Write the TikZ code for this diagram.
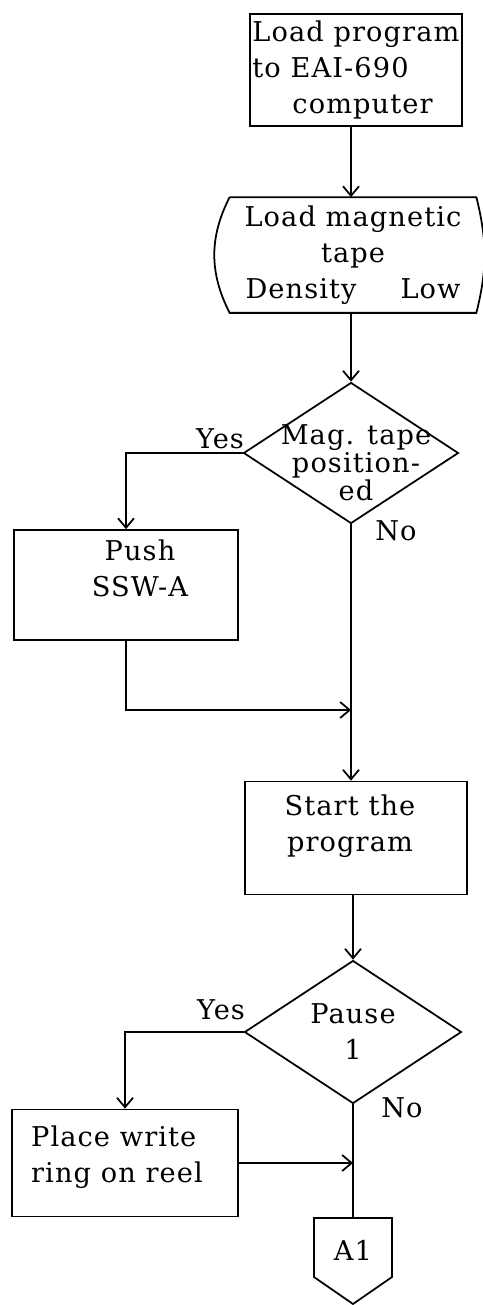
\documentclass[tikz,border=0pt]{standalone}
\usepackage{fontspec}
\setmainfont{DejaVu Serif}[LetterSpace=4]
\usetikzlibrary{arrows.meta,shapes.geometric}

\begin{document}
\begin{tikzpicture}[x=0.02cm,y=-0.02cm,>={Straight Barb[length=1.9mm,width=3.2mm]},line width=1pt,font=\fontsize{15.5}{20.5}\selectfont]
\tikzset{
  procbox/.style={draw,inner sep=0pt},
  decision/.style={draw,diamond,inner sep=0pt},
  answer/.style={inner sep=1pt}
}
\useasboundingbox (0,0) rectangle (483,1305);
% boxes and shapes
\node[procbox,minimum width=4.24cm,minimum height=2.24cm,align=left] (load) at (356,70) {Load program\\to EAI-690\\\hspace*{0.8cm}computer};
\node[minimum width=4.9cm,minimum height=2.28cm,align=center] (tape) at (353,255) {Load magnetic\\tape\\\makebox[4.3cm]{Density\hfill Low}};
\draw (tape.north west) -- (tape.north east) to[bend left=14] (tape.south east) -- (tape.south west) to[bend left=27] (tape.north west);
\node[decision,minimum width=4.3cm,minimum height=2.82cm,
  label={[align=center,font=\fontsize{15.5}{12.5}\selectfont,xshift=0.1cm,yshift=-0.2cm]center:Mag. tape\\position-\\ed}] (mag) at (351,453) {};
\node[procbox,minimum width=4.48cm,minimum height=2.2cm,
  label={[align=center,xshift=0.28cm,yshift=0.34cm]center:Push\\SSW-A}] (push) at (126,585) {};
\node[procbox,minimum width=4.44cm,minimum height=2.26cm,
  label={[align=center,xshift=-0.12cm,yshift=0.24cm]center:Start the\\program}] (start) at (356,838) {};
\node[decision,minimum width=4.34cm,minimum height=2.86cm,align=center] (pause) at (353,1032) {Pause\\1};
\node[procbox,minimum width=4.52cm,minimum height=2.14cm,
  label={[align=left,xshift=-0.16cm,yshift=0.12cm]center:Place write\\ring on reel}] (place) at (125,1163) {};
\node (a1) at (353,1250) {A1};
\draw (a1) ++(-39,-32) -- ++(78,0) -- ++(0,59) -- ++(-39,27) -- ++(-39,-27) -- cycle;
\path (a1) ++(0,-32) coordinate (a1in);
% answers
\node[answer] (yes1) at (220,439) {Yes};
\node[answer] (no1) at (396,531) {No};
\node[answer] (yes2) at (221,1010) {Yes};
\node[answer] (no2) at (402,1108) {No};
% joins
\coordinate (j1) at (351,710);
% connectors
\draw[->] (load.south -| mag.north) -- (tape.north -| mag.north);
\draw[->] (tape.south -| mag.north) -- (mag.north);
\draw[->] (mag.west) -| (push.north);
\draw[->] (push.south) |- (j1);
\draw[->] (mag.south) -- (mag.south |- start.north);
\draw[->] (start.south -| pause.north) -- (pause.north);
\draw[->] (pause.west) -| (place.north);
\draw[->] (place.east) -- (place.east -| pause.south);
\draw (pause.south) -- (a1in);
\end{tikzpicture}
\end{document}
